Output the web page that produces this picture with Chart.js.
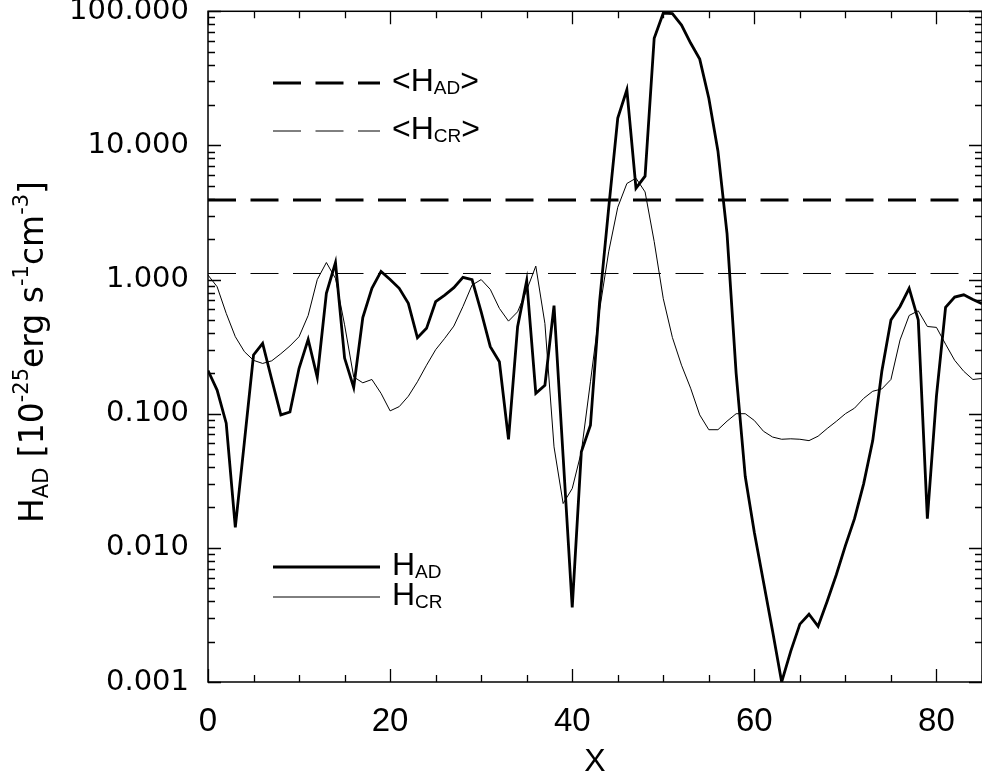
<!DOCTYPE html>
<html>
<head>
<meta charset="utf-8">
<script src="https://cdn.jsdelivr.net/npm/chart.js@4.4.1/dist/chart.umd.min.js"></script>
<style>
  html, body { margin: 0; padding: 0; background: #fff; }
  #wrap { width: 982px; height: 777px; position: relative; }
</style>
</head>
<body>
<div id="wrap"><canvas id="heatingChart"></canvas></div>
<script>
// positions along X
const xValues = [
   0,  1,  2,  3,  4,  5,  6,  7,  8,  9, 10, 11, 12, 13, 14, 15, 16, 17, 18, 19,
  20, 21, 22, 23, 24, 25, 26, 27, 28, 29, 30, 31, 32, 33, 34, 35, 36, 37, 38, 39,
  40, 41, 42, 43, 44, 45, 46, 47, 48, 49, 50, 51, 52, 53, 54, 55, 56, 57, 58, 59,
  60, 61, 62, 63, 64, 65, 66, 67, 68, 69, 70, 71, 72, 73, 74, 75, 76, 77, 78, 79,
  80, 81, 82, 83, 84, 85
];

// ambipolar diffusion heating H_AD (thick line)
const hAD = [
  0.21, 0.15, 0.085, 0.0142, 0.062, 0.274, 0.335, 0.18, 0.098, 0.103,
  0.218, 0.358, 0.187, 0.79, 1.34, 0.26, 0.157, 0.52, 0.86, 1.15,
  1.0, 0.86, 0.665, 0.368, 0.433, 0.684, 0.767, 0.87, 1.04, 1.0,
  0.575, 0.316, 0.244, 0.0643, 0.445, 0.98, 0.142, 0.163, 0.64, 0.048,
  0.0036, 0.052, 0.082, 0.68, 3.4, 16, 26, 4.8, 5.9, 63,
  97, 96, 79, 58, 44, 22.5, 9.1, 2.2, 0.2, 0.034,
  0.013, 0.0056, 0.0024, 0.001, 0.0017, 0.0027, 0.0032, 0.0026, 0.004, 0.0063,
  0.0104, 0.0165, 0.030, 0.063, 0.207, 0.50, 0.63, 0.86, 0.50, 0.0165,
  0.136, 0.62, 0.74, 0.77, 0.71, 0.66
];

// cosmic ray heating H_CR (thin line)
const hCR = [
  1.08, 0.885, 0.56, 0.375, 0.29, 0.25, 0.237, 0.248, 0.28, 0.32,
  0.375, 0.54, 1.0, 1.34, 1.02, 0.46, 0.188, 0.17, 0.18, 0.142,
  0.105, 0.113, 0.135, 0.173, 0.23, 0.30, 0.365, 0.45, 0.63, 0.91,
  1.0, 0.845, 0.61, 0.49, 0.575, 0.835, 1.26, 0.47, 0.0566, 0.0214,
  0.0277, 0.052, 0.173, 0.59, 1.61, 3.46, 5.2, 5.7, 4.5, 1.92,
  0.72, 0.37, 0.23, 0.155, 0.098, 0.076, 0.076, 0.088, 0.10, 0.10,
  0.089, 0.074, 0.067, 0.0645, 0.065, 0.0645, 0.063, 0.068, 0.0776, 0.0877,
  0.1, 0.11, 0.13, 0.147, 0.153, 0.18, 0.355, 0.54, 0.585, 0.447,
  0.44, 0.33, 0.25, 0.207, 0.18, 0.183
];

// mean values <H_AD>, <H_CR>
const meanAD = [3.92, 3.92];
const meanCR = [1.11, 1.11];
const meanX = [0, 85];

const xTicks = [0, 20, 40, 60, 80];
const yTicks = [0.001, 0.01, 0.1, 1, 10, 100];

const THICK = 2.8;
const THIN = 1;
const DASH = [28, 14.5];

function toPoints(xs, ys) {
  return xs.map((x, i) => ({ x: x, y: ys[i] }));
}

// draws text with sub/superscripts, returns width
function drawRich(ctx, parts, x, y, mainFont, smallFont, subDy, supDy) {
  let cx = x;
  parts.forEach(p => {
    ctx.font = p.s ? smallFont : mainFont;
    const dy = p.s === 'sub' ? subDy : (p.s === 'sup' ? supDy : 0);
    ctx.fillText(p.t, cx, y + dy);
    cx += ctx.measureText(p.t).width;
  });
  return cx - x;
}

function richWidth(ctx, parts, mainFont, smallFont) {
  let w = 0;
  parts.forEach(p => {
    ctx.font = p.s ? smallFont : mainFont;
    w += ctx.measureText(p.t).width;
  });
  return w;
}

const decorations = {
  id: 'decorations',
  afterDraw(chart) {
    const { ctx, chartArea: a, scales: { x, y } } = chart;
    ctx.save();
    ctx.strokeStyle = '#000';
    ctx.fillStyle = '#000';

    // frame
    ctx.lineWidth = 1.5;
    ctx.strokeRect(a.left, a.top, a.right - a.left, a.bottom - a.top);

    // x ticks (inward, top and bottom)
    ctx.lineWidth = 1.3;
    ctx.beginPath();
    for (let v = 0; v <= 85; v += 5) {
      const px = Math.round(x.getPixelForValue(v)) + 0.5;
      const len = v % 20 === 0 ? 13 : 7;
      ctx.moveTo(px, a.bottom); ctx.lineTo(px, a.bottom - len);
      ctx.moveTo(px, a.top); ctx.lineTo(px, a.top + len);
    }
    // y ticks (log, inward, left and right)
    yTicks.forEach((d, i) => {
      const py = Math.round(y.getPixelForValue(d)) + 0.5;
      ctx.moveTo(a.left, py); ctx.lineTo(a.left + 13, py);
      ctx.moveTo(a.right, py); ctx.lineTo(a.right - 13, py);
      if (i < yTicks.length - 1) {
        for (let m = 2; m <= 9; m++) {
          const pm = Math.round(y.getPixelForValue(d * m)) + 0.5;
          ctx.moveTo(a.left, pm); ctx.lineTo(a.left + 7, pm);
          ctx.moveTo(a.right, pm); ctx.lineTo(a.right - 7, pm);
        }
      }
    });
    ctx.stroke();

    // legend
    const legX0 = 273, legX1 = 380, textX = 392;
    const legFont = '32px "Liberation Sans", Arial, sans-serif';
    const legSmall = '19px "Liberation Sans", Arial, sans-serif';
    const legends = [
      { y: 83, w: THICK, dash: DASH, parts: [{ t: '<H' }, { t: 'AD', s: 'sub' }, { t: '>' }] },
      { y: 131, w: THIN, dash: DASH, parts: [{ t: '<H' }, { t: 'CR', s: 'sub' }, { t: '>' }] },
      { y: 567, w: THICK, dash: [], parts: [{ t: 'H' }, { t: 'AD', s: 'sub' }] },
      { y: 597, w: THIN, dash: [], parts: [{ t: 'H' }, { t: 'CR', s: 'sub' }] }
    ];
    ctx.textBaseline = 'alphabetic';
    ctx.textAlign = 'left';
    legends.forEach(l => {
      ctx.lineWidth = l.w;
      ctx.setLineDash(l.dash);
      ctx.beginPath();
      ctx.moveTo(legX0, l.y);
      ctx.lineTo(legX1, l.y);
      ctx.stroke();
      ctx.setLineDash([]);
      drawRich(ctx, l.parts, textX, l.y + 8, legFont, legSmall, 3, -12);
    });

    // y axis title
    const tMain = '33px "DejaVu Sans", sans-serif';
    const tSmall = '21px "DejaVu Sans", sans-serif';
    const titleParts = [
      { t: 'H' }, { t: 'AD', s: 'sub' }, { t: ' [10' }, { t: '-25', s: 'sup' },
      { t: 'erg s' }, { t: '-1', s: 'sup' }, { t: 'cm' }, { t: '-3', s: 'sup' }, { t: ']' }
    ];
    const tw = richWidth(ctx, titleParts, tMain, tSmall);
    ctx.save();
    ctx.translate(43, 352);
    ctx.rotate(-Math.PI / 2);
    drawRich(ctx, titleParts, -tw / 2, 0, tMain, tSmall, 5, -15);
    ctx.restore();

    // x axis title
    ctx.font = '32px "Liberation Sans", Arial, sans-serif';
    ctx.textAlign = 'center';
    ctx.textBaseline = 'middle';
    ctx.fillText('X', (a.left + a.right) / 2, 762);

    ctx.restore();
  }
};

const ctx = document.getElementById('heatingChart');

new Chart(ctx, {
  type: 'line',
  data: {
    datasets: [
      {
        label: 'H_AD',
        data: toPoints(xValues, hAD),
        borderColor: '#000',
        borderWidth: THICK,
        pointRadius: 0,
        tension: 0
      },
      {
        label: 'H_CR',
        data: toPoints(xValues, hCR),
        borderColor: '#000',
        borderWidth: THIN,
        pointRadius: 0,
        tension: 0
      },
      {
        label: '<H_AD>',
        data: toPoints(meanX, meanAD),
        borderColor: '#000',
        borderWidth: THICK,
        borderDash: DASH,
        pointRadius: 0
      },
      {
        label: '<H_CR>',
        data: toPoints(meanX, meanCR),
        borderColor: '#000',
        borderWidth: THIN,
        borderDash: DASH,
        pointRadius: 0
      }
    ]
  },
  options: {
    responsive: true,
    maintainAspectRatio: false,
    animation: false,
    devicePixelRatio: 1,
    layout: { padding: { top: 0, right: 0, left: 0, bottom: 0 } },
    plugins: {
      legend: { display: false },
      tooltip: { enabled: false }
    },
    scales: {
      x: {
        type: 'linear',
        min: 0,
        max: 85,
        afterBuildTicks: scale => { scale.ticks = xTicks.map(v => ({ value: v })); },
        afterFit: scale => { scale.height = 95; },
        grid: { display: false },
        border: { display: false },
        ticks: {
          color: '#000',
          padding: 12,
          maxRotation: 0,
          font: { family: '"Liberation Sans", Arial, sans-serif', size: 33 }
        }
      },
      y: {
        type: 'logarithmic',
        min: 0.001,
        max: 100,
        afterBuildTicks: scale => { scale.ticks = yTicks.map(v => ({ value: v })); },
        afterFit: scale => { scale.width = 208; },
        grid: { display: false },
        border: { display: false },
        ticks: {
          color: '#000',
          padding: 11,
          callback: v => Number(v).toFixed(3),
          font: { family: '"DejaVu Sans", sans-serif', size: 29, lineHeight: 0.02 }
        }
      }
    }
  },
  plugins: [decorations]
});
</script>
</body>
</html>
